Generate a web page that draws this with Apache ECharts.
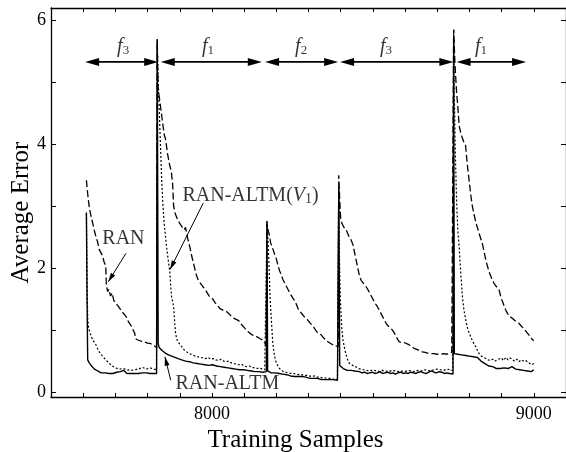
<!DOCTYPE html>
<html><head><meta charset="utf-8">
<script src="https://cdn.jsdelivr.net/npm/echarts@6/dist/echarts.min.js"></script>
<style>html,body{margin:0;padding:0;background:#fff}#c{width:566px;height:452px}</style>
</head><body><div id="c"></div>
<script>
// ---- data ----
const ranPts = [
[7610,3.42],[7614,3.2],[7618,3.02],[7622,2.9],[7626,2.8],[7630,2.72],[7635,2.6],[7640,2.5],[7645,2.42],[7650,2.3],[7655,2.27],[7660,2.2],[7665,2.1],[7670,2.04],[7672,1.72],[7676,1.62],[7680,1.66],[7685,1.55],[7690,1.6],[7695,1.48],[7700,1.44],[7705,1.45],[7710,1.38],[7715,1.36],[7720,1.3],[7725,1.27],[7730,1.24],[7735,1.2],[7740,1.14],[7745,1.12],[7750,1.06],[7755,1.04],[7760,0.95],[7763,0.86],[7770,0.84],[7775,0.85],[7780,0.82],[7790,0.81],[7800,0.79],[7810,0.78],[7815,0.76],[7820,0.75],[7828,0.72],
[7830,5.65],
[7833,4.9],[7838,4.7],[7843,4.5],[7848,4.3],[7852,4.15],[7856,4.08],[7862,3.85],[7868,3.68],[7874,3.55],[7878,3.35],[7881,3.0],[7886,2.88],[7892,2.8],[7898,2.74],[7903,2.7],[7908,2.66],[7914,2.62],[7918,2.66],[7922,2.55],[7926,2.45],[7931,2.35],[7937,2.2],[7944,2.05],[7952,1.88],[7958,1.8],[7965,1.75],[7972,1.7],[7978,1.66],[7983,1.62],[7990,1.56],[7996,1.52],[8003,1.5],[8010,1.44],[8017,1.4],[8024,1.35],[8031,1.33],[8038,1.31],[8045,1.3],[8052,1.27],[8058,1.24],[8064,1.2],[8070,1.19],[8077,1.17],[8084,1.15],[8090,1.1],[8097,1.06],[8104,1.02],[8111,0.98],[8117,0.95],[8123,0.93],[8130,0.91],[8137,0.9],[8143,0.88],[8150,0.86],[8157,0.84],[8163,0.8],[8168,0.76],
[8171,2.72],
[8174,2.62],[8178,2.55],[8182,2.42],[8186,2.35],[8190,2.3],[8195,2.22],[8200,2.15],[8205,2.05],[8210,1.96],[8215,1.9],[8220,1.82],[8226,1.76],[8232,1.7],[8238,1.64],[8244,1.58],[8250,1.55],[8256,1.48],[8262,1.42],[8268,1.34],[8274,1.3],[8280,1.26],[8286,1.22],[8292,1.2],[8298,1.16],[8304,1.12],[8310,1.1],[8316,1.05],[8322,1.0],[8328,0.96],[8334,0.94],[8340,0.92],[8346,0.88],[8352,0.85],[8358,0.82],[8364,0.8],[8370,0.78],[8376,0.77],[8382,0.74],[8388,0.72],[8392,0.74],
[8394,3.5],
[8397,3.1],[8400,2.8],[8404,2.72],[8410,2.66],[8417,2.62],[8425,2.52],[8432,2.46],[8438,2.38],[8442,2.28],[8450,2.08],[8458,1.88],[8464,1.8],[8470,1.76],[8479,1.7],[8485,1.65],[8490,1.6],[8499,1.51],[8505,1.45],[8510,1.42],[8515,1.37],[8520,1.32],[8525,1.27],[8530,1.22],[8536,1.16],[8541,1.11],[8547,1.07],[8553,1.05],[8561,1.0],[8567,0.95],[8572,0.9],[8577,0.85],[8582,0.81],[8590,0.8],[8597,0.8],[8603,0.79],[8610,0.77],[8617,0.75],[8623,0.73],[8630,0.7],[8640,0.68],[8647,0.66],[8654,0.65],[8662,0.64],[8670,0.63],[8680,0.62],[8690,0.62],[8700,0.61],[8710,0.61],[8720,0.62],[8730,0.61],[8738,0.63],[8745,0.64],[8749,0.66],
[8751,5.85],
[8755,5.3],[8760,4.85],[8764,4.6],[8768,4.3],[8773,4.18],[8778,4.1],[8783,4.03],[8788,3.98],[8792,3.75],[8796,3.55],[8800,3.37],[8805,3.15],[8809,3.0],[8815,2.85],[8820,2.74],[8825,2.65],[8830,2.56],[8835,2.48],[8840,2.4],[8845,2.28],[8850,2.15],[8856,2.03],[8860,1.96],[8864,1.9],[8868,1.85],[8871,1.81],[8876,1.76],[8881,1.72],[8886,1.69],[8892,1.65],[8897,1.55],[8902,1.47],[8907,1.4],[8913,1.32],[8918,1.27],[8923,1.23],[8928,1.2],[8933,1.19],[8938,1.16],[8944,1.14],[8949,1.12],[8954,1.11],[8960,1.07],[8965,1.05],[8970,1.02],[8974,1.0],[8980,0.95],[8985,0.92],[8990,0.89],[8995,0.85],[9000,0.83]
];
const v1Pts = [
[7610,2.88],[7612,1.8],[7614,1.2],[7617,1.02],[7620,0.98],[7625,0.9],[7630,0.84],[7635,0.8],[7640,0.76],[7645,0.7],[7650,0.65],[7655,0.62],[7660,0.58],[7665,0.55],[7670,0.52],[7675,0.5],[7680,0.47],[7685,0.45],[7690,0.42],[7695,0.41],[7700,0.39],[7706,0.38],[7712,0.37],[7718,0.36],[7724,0.38],[7730,0.35],[7736,0.36],[7742,0.34],[7748,0.35],[7754,0.34],[7760,0.36],[7766,0.35],[7772,0.37],[7778,0.38],[7784,0.4],[7790,0.38],[7796,0.37],[7802,0.4],[7808,0.39],[7814,0.38],[7820,0.37],[7828,0.36],
[7830,5.68],
[7832,5.2],[7836,4.6],[7840,4.0],[7844,3.4],[7848,3.0],[7852,2.7],[7856,2.5],[7860,2.3],[7865,2.1],[7869,1.95],[7872,1.7],[7875,1.52],[7878,1.46],[7881,1.38],[7884,1.15],[7887,0.95],[7891,0.85],[7896,0.8],[7902,0.76],[7908,0.72],[7914,0.68],[7920,0.66],[7926,0.63],[7932,0.62],[7940,0.6],[7948,0.58],[7956,0.57],[7964,0.56],[7972,0.55],[7980,0.54],[7988,0.56],[7996,0.53],[8004,0.54],[8012,0.52],[8020,0.51],[8028,0.53],[8036,0.5],[8044,0.49],[8052,0.5],[8060,0.47],[8068,0.46],[8076,0.45],[8084,0.44],[8092,0.45],[8100,0.42],[8108,0.41],[8116,0.42],[8124,0.4],[8132,0.39],[8140,0.38],[8148,0.39],[8156,0.37],[8164,0.36],[8169,0.36],
[8171,2.75],
[8174,2.45],[8177,2.1],[8180,1.6],[8183,1.3],[8186,1.05],[8189,0.8],[8192,0.66],[8196,0.55],[8200,0.47],[8205,0.42],[8210,0.38],[8216,0.35],[8222,0.33],[8230,0.32],[8238,0.31],[8246,0.3],[8254,0.3],[8262,0.29],[8270,0.28],[8278,0.28],[8286,0.27],[8294,0.27],[8302,0.26],[8310,0.25],[8318,0.26],[8326,0.24],[8334,0.24],[8342,0.23],[8350,0.23],[8358,0.22],[8366,0.22],[8374,0.21],[8382,0.21],[8390,0.21],
[8394,3.3],
[8396,2.2],[8399,1.5],[8403,1.05],[8407,0.85],[8411,0.73],[8416,0.62],[8421,0.53],[8426,0.47],[8432,0.44],[8440,0.42],[8447,0.41],[8455,0.38],[8463,0.37],[8471,0.36],[8480,0.35],[8490,0.34],[8500,0.36],[8510,0.34],[8520,0.33],[8530,0.35],[8540,0.34],[8550,0.33],[8560,0.35],[8570,0.34],[8580,0.33],[8590,0.34],[8600,0.33],[8610,0.35],[8620,0.34],[8630,0.33],[8640,0.35],[8650,0.34],[8660,0.36],[8670,0.35],[8680,0.34],[8690,0.36],[8700,0.37],[8710,0.36],[8720,0.35],[8730,0.37],[8740,0.36],[8748,0.35],
[8751,5.85],
[8753,4.8],[8756,3.9],[8760,3.1],[8764,2.6],[8768,2.35],[8773,1.92],[8778,1.55],[8783,1.32],[8788,1.18],[8793,1.05],[8798,0.97],[8804,0.89],[8810,0.82],[8815,0.77],[8820,0.73],[8825,0.67],[8830,0.62],[8837,0.58],[8844,0.56],[8851,0.54],[8858,0.52],[8865,0.51],[8872,0.53],[8879,0.5],[8886,0.52],[8892,0.52],[8899,0.55],[8906,0.51],[8913,0.56],[8920,0.52],[8927,0.55],[8933,0.54],[8940,0.5],[8947,0.53],[8954,0.49],[8961,0.52],[8968,0.5],[8975,0.51],[8982,0.48],[8988,0.47],[8994,0.44],[9000,0.46]
];
const altmPts = [
[7610,2.9],[7612,1.5],[7614,0.52],[7618,0.48],[7622,0.45],[7626,0.42],[7630,0.4],[7635,0.37],[7640,0.35],[7645,0.34],[7650,0.33],[7656,0.31],[7662,0.32],[7668,0.31],[7674,0.32],[7680,0.3],[7686,0.31],[7692,0.3],[7698,0.31],[7704,0.32],[7710,0.31],[7716,0.33],[7722,0.36],[7726,0.35],[7730,0.32],[7736,0.3],[7742,0.29],[7748,0.3],[7754,0.31],[7760,0.3],[7766,0.31],[7772,0.3],[7778,0.32],[7784,0.31],[7790,0.3],[7796,0.31],[7802,0.32],[7808,0.3],[7814,0.31],[7820,0.3],[7828,0.3],
[7830,5.7],
[7833,0.78],[7836,0.72],[7840,0.74],[7845,0.67],[7850,0.66],[7855,0.63],[7860,0.64],[7865,0.6],[7870,0.61],[7875,0.58],[7880,0.59],[7885,0.56],[7890,0.57],[7895,0.54],[7900,0.56],[7906,0.52],[7912,0.54],[7918,0.5],[7924,0.52],[7930,0.49],[7936,0.5],[7942,0.47],[7948,0.49],[7954,0.46],[7960,0.48],[7966,0.45],[7972,0.47],[7978,0.44],[7984,0.46],[7990,0.43],[7996,0.45],[8002,0.44],[8008,0.46],[8014,0.42],[8020,0.44],[8026,0.41],[8032,0.43],[8038,0.4],[8044,0.42],[8050,0.39],[8056,0.41],[8062,0.38],[8068,0.4],[8074,0.37],[8080,0.39],[8086,0.36],[8092,0.38],[8098,0.36],[8104,0.37],[8110,0.35],[8116,0.36],[8122,0.34],[8128,0.36],[8134,0.33],[8140,0.35],[8146,0.33],[8152,0.34],[8158,0.32],[8164,0.33],[8169,0.33],
[8171,2.76],
[8173,0.34],[8178,0.32],[8184,0.31],[8190,0.3],[8196,0.31],[8202,0.29],[8208,0.3],[8214,0.28],[8220,0.29],[8226,0.27],[8232,0.28],[8238,0.27],[8244,0.26],[8250,0.27],[8256,0.25],[8262,0.26],[8268,0.25],[8274,0.24],[8280,0.25],[8286,0.23],[8292,0.24],[8298,0.23],[8304,0.22],[8310,0.23],[8316,0.22],[8322,0.21],[8328,0.22],[8334,0.21],[8340,0.2],[8346,0.21],[8352,0.2],[8358,0.21],[8364,0.2],[8370,0.19],[8376,0.2],[8382,0.19],[8390,0.19],
[8394,3.3],
[8397,0.43],[8402,0.4],[8408,0.38],[8414,0.36],[8420,0.35],[8426,0.34],[8432,0.35],[8438,0.33],[8444,0.34],[8450,0.32],[8458,0.33],[8466,0.31],[8474,0.32],[8482,0.3],[8490,0.31],[8498,0.32],[8506,0.3],[8514,0.31],[8522,0.33],[8530,0.3],[8538,0.31],[8546,0.32],[8554,0.3],[8562,0.31],[8570,0.29],[8578,0.31],[8586,0.32],[8594,0.3],[8602,0.31],[8610,0.3],[8618,0.32],[8626,0.31],[8634,0.3],[8642,0.32],[8650,0.33],[8658,0.31],[8666,0.3],[8674,0.32],[8682,0.34],[8690,0.32],[8698,0.31],[8706,0.33],[8714,0.32],[8722,0.3],[8730,0.31],[8738,0.3],[8744,0.29],[8749,0.29],
[8751,5.7],
[8753,0.62],[8758,0.6],[8764,0.61],[8770,0.59],[8776,0.6],[8782,0.58],[8788,0.59],[8794,0.57],[8800,0.58],[8806,0.56],[8812,0.57],[8818,0.55],[8824,0.56],[8830,0.54],[8836,0.5],[8842,0.48],[8848,0.46],[8854,0.45],[8860,0.42],[8866,0.4],[8872,0.41],[8878,0.39],[8884,0.38],[8890,0.39],[8896,0.38],[8902,0.4],[8908,0.39],[8914,0.41],[8920,0.38],[8926,0.4],[8932,0.41],[8938,0.39],[8944,0.37],[8950,0.38],[8956,0.36],[8962,0.37],[8968,0.35],[8974,0.36],[8980,0.34],[8986,0.35],[8992,0.33],[9000,0.36]
];
// phase arrows: [start, end, level] and their labels
const phaseSpans = [[7606,7833,5.33],[7841,8155,5.33],[8165,8392,5.33],[8398,8750,5.33],[8760,8976,5.33]];
const phaseNames = ['3','1','2','3','1'];
const phaseLabelPos = [[7724,5.57],[7988,5.57],[8277,5.57],[8541,5.57],[8836,5.57]];
// annotation texts and pointer arrows [tailX, tailY, tipX, tipY]
const noteTexts = ['RAN','RAN-ALTM(V1)','RAN-ALTM'];
const notePos = [[7725,2.47],[8120,3.165],[8048,0.141]];
const notePointers = [[7733,2.24,7678,1.78],[7973,3.05,7870,1.98],[7872,0.19,7854,0.57]];
const xTickLabels = [8000, 9000];
const xTicks = [7600,7700,7800,7900,8000,8100,8200,8300,8400,8500,8600,8700,8800,8900,9000];
const yTickLabels = [0, 2, 4, 6];
const yTicks = [0, 1, 2, 3, 4, 5, 6];

const FONT = '"Liberation Serif","Times New Roman",serif';
const chart = echarts.init(document.getElementById('c'));

function arrowItem(p1, p2, L, W) {
  // triangle with tip at p2 pointing from p1
  const dx = p2[0]-p1[0], dy = p2[1]-p1[1];
  const len = Math.sqrt(dx*dx+dy*dy) || 1;
  const ux = dx/len, uy = dy/len;
  const bx = p2[0]-ux*L, by = p2[1]-uy*L;
  return {type:'polygon', shape:{points:[[p2[0],p2[1]],[bx-uy*W/2, by+ux*W/2],[bx+uy*W/2, by-ux*W/2]]}, style:{fill:'#000'}};
}

const axisCommon = {
  axisLine:{show:true, onZero:false, lineStyle:{color:'#000', width:1.3}},
  splitLine:{show:false}
};
const tickStyle = {show:true, inside:true, lineStyle:{color:'#000', width:1}};

const option = {
  animation:false,
  backgroundColor:'#fff',
  grid:{left:51, right:0, top:8, bottom:55, outerBoundsMode:'none', containLabel:false},
  xAxis:[
    Object.assign({type:'value', min:7500, max:9100, interval:100, position:'bottom',
      axisTick:Object.assign({length:4, customValues:xTicks}, tickStyle),
      axisLabel:{customValues:xTickLabels, formatter:v=>String(v), color:'#000', fontFamily:FONT, fontSize:18, margin:8},
      name:'Training Samples', nameLocation:'middle', nameGap:28,
      nameTextStyle:{color:'#000', fontFamily:FONT, fontSize:25, padding:[0,26,0,0]}}, axisCommon),
    Object.assign({type:'value', min:7500, max:9100, interval:100, position:'top',
      axisTick:Object.assign({length:4, customValues:xTicks}, tickStyle),
      axisLabel:{show:false}}, axisCommon)
  ],
  yAxis:[
    Object.assign({type:'value', min:-0.08, max:6.2, position:'left',
      axisTick:Object.assign({length:5, customValues:yTicks}, tickStyle),
      axisLabel:{customValues:yTickLabels, color:'#000', fontFamily:FONT, fontSize:18, margin:5},
      name:'Average Error', nameLocation:'middle', nameGap:17, nameMoveOverlap:false,
      nameTextStyle:{color:'#000', fontFamily:FONT, fontSize:25, padding:[0,20,0,0]}}, axisCommon),
    Object.assign({type:'value', min:-0.08, max:6.2, position:'right',
      axisTick:Object.assign({length:5, customValues:yTicks}, tickStyle),
      axisLabel:{show:false}}, axisCommon)
  ],
  series:[
    {type:'line', name:'RAN', data:ranPts, showSymbol:false, symbol:'none',
      lineStyle:{color:'#000', width:1.3, type:[7,3]}},
    {type:'line', name:'RAN-ALTM(V1)', data:v1Pts, showSymbol:false, symbol:'none',
      lineStyle:{color:'#000', width:1.2, type:[2,2]}},
    {type:'line', name:'RAN-ALTM', data:altmPts, showSymbol:false, symbol:'none',
      lineStyle:{color:'#000', width:1.4}},
    {type:'custom', name:'phases', data:phaseSpans, silent:true,
      renderItem:function(params, api){
        const y = api.value(2);
        const a = api.coord([api.value(0), y]), b = api.coord([api.value(1), y]);
        const L = 14, W = 8;
        return {type:'group', children:[
          {type:'line', shape:{x1:a[0]+L-2, y1:a[1], x2:b[0]-L+2, y2:b[1]}, style:{stroke:'#000', lineWidth:1.8}},
          arrowItem(b, a, L, W), arrowItem(a, b, L, W)
        ]};
      }},
    {type:'custom', name:'pointers', data:notePointers, silent:true,
      renderItem:function(params, api){
        const a = api.coord([api.value(0), api.value(1)]), b = api.coord([api.value(2), api.value(3)]);
        return {type:'group', children:[
          {type:'line', shape:{x1:a[0], y1:a[1], x2:b[0], y2:b[1]}, style:{stroke:'#000', lineWidth:1}},
          arrowItem(a, b, 9, 5)
        ]};
      }},
    {type:'scatter', name:'phaseLabels', silent:true, symbolSize:1, itemStyle:{color:'rgba(0,0,0,0)'},
      data:phaseLabelPos.map((p,i)=>({value:p, name:phaseNames[i]})),
      label:{show:true, position:'inside', color:'#000', formatter:p=>'{f|f}{s|'+p.name+'}',
        rich:{f:{fontFamily:FONT, fontStyle:'italic', fontSize:20, color:'#000'},
              s:{fontFamily:FONT, fontSize:13, color:'#000', padding:[8,0,0,0]}}}},
    {type:'scatter', name:'notes', silent:true, symbolSize:1, itemStyle:{color:'rgba(0,0,0,0)'},
      data:notePos.map((p,i)=>({value:p, name:noteTexts[i]})),
      label:{show:true, position:'inside', color:'#000', formatter:function(p){
          if (p.name === 'RAN-ALTM(V1)') return '{t|RAN-ALTM(}{i|V}{s|1}{t|)}';
          return '{t|'+p.name+'}';
        },
        rich:{t:{fontFamily:FONT, fontSize:20, color:'#000'},
              i:{fontFamily:FONT, fontSize:20, fontStyle:'italic', color:'#000'},
              s:{fontFamily:FONT, fontSize:14, color:'#000', padding:[6,0,0,0]}}}}
  ]
};
chart.setOption(option);
</script>
</body></html>
